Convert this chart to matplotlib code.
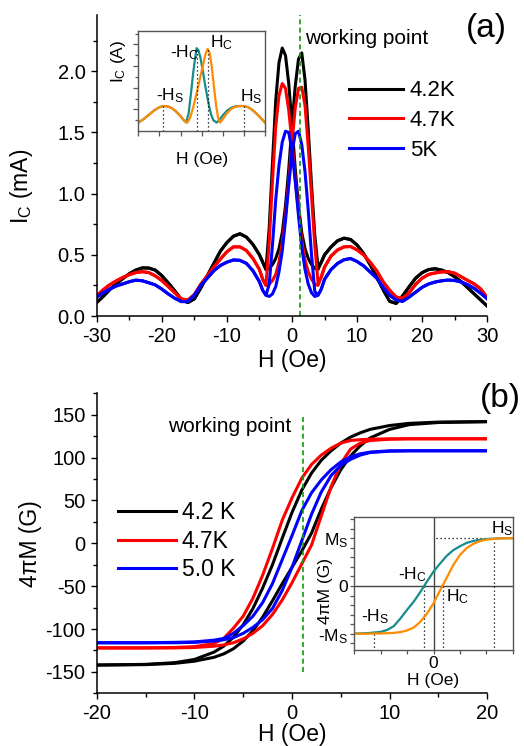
import numpy as np
import matplotlib
matplotlib.use('Agg')
import matplotlib.pyplot as plt
from matplotlib.ticker import MultipleLocator, FixedLocator, FixedFormatter, NullFormatter

plt.rcParams['font.family'] = ['Liberation Sans', 'DejaVu Sans']
plt.rcParams['mathtext.fontset'] = 'custom'
plt.rcParams['mathtext.rm'] = 'Liberation Sans'
plt.rcParams['mathtext.it'] = 'Liberation Sans:italic'
plt.rcParams['mathtext.bf'] = 'Liberation Sans:bold'
plt.rcParams['axes.unicode_minus'] = False

# ---------------- Panel (a) data: Ic(H) ----------------
temps_a = ['4.2K', '4.7K', '5K']
colors = ['#000000', '#ff0000', '#0000ff']

H_out_left = [-30, -29, -28, -27, -26, -25, -24, -23, -22, -21, -20, -19, -18,
              -17, -16, -15, -14, -13, -12, -11, -10, -9, -8, -7, -6, -5]
H_center = [-4.5, -4, -3.5, -3, -2.5, -2, -1.5, -1, -0.5, 0, 0.5, 1, 1.5, 2,
            2.5, 3, 3.5, 4, 4.5]
H_out_right = [5, 6, 7, 8, 9, 10, 11, 12, 13, 14, 15, 16, 17, 18, 19, 20, 21,
               22, 23, 24, 25, 26, 27, 28, 29, 30]

ic42_left = [0.11, 0.16, 0.215, 0.262, 0.305, 0.345, 0.375, 0.393, 0.392, 0.375,
             0.33, 0.27, 0.205, 0.135, 0.11, 0.14, 0.23, 0.33, 0.43, 0.53, 0.6,
             0.652, 0.672, 0.645, 0.585, 0.5]
ic42_down = [0.44, 0.38, 0.72, 1.25, 1.76, 2.07, 2.19, 2.13, 1.9, 1.56, 1.2, 0.9,
             0.68, 0.55, 0.47, 0.42, 0.39, 0.38, 0.44]
ic42_up = [0.44, 0.38, 0.39, 0.42, 0.47, 0.55, 0.68, 0.9, 1.2, 1.56, 1.88, 2.1,
           2.15, 1.93, 1.52, 1.07, 0.66, 0.4, 0.44]
ic42_right = [0.5, 0.565, 0.615, 0.636, 0.625, 0.58, 0.51, 0.42, 0.32, 0.215, 0.12,
              0.103, 0.165, 0.24, 0.31, 0.355, 0.38, 0.386, 0.375, 0.355, 0.32,
              0.28, 0.23, 0.18, 0.13, 0.08]

ic47_left = [0.165, 0.215, 0.255, 0.287, 0.315, 0.338, 0.355, 0.362, 0.355, 0.328,
             0.29, 0.24, 0.19, 0.14, 0.13, 0.175, 0.26, 0.33, 0.4, 0.465, 0.525,
             0.565, 0.565, 0.535, 0.47, 0.38]
ic47_down = [0.30, 0.25, 0.6, 1.1, 1.55, 1.8, 1.9, 1.86, 1.68, 1.42, 1.12, 0.85,
             0.62, 0.46, 0.36, 0.3, 0.26, 0.25, 0.32]
ic47_up = [0.30, 0.25, 0.26, 0.29, 0.34, 0.44, 0.6, 0.82, 1.1, 1.42, 1.7, 1.86,
           1.87, 1.72, 1.38, 0.98, 0.58, 0.27, 0.32]
ic47_right = [0.4, 0.49, 0.54, 0.565, 0.568, 0.54, 0.5, 0.44, 0.37, 0.28, 0.21,
              0.155, 0.145, 0.19, 0.26, 0.31, 0.34, 0.352, 0.36, 0.362, 0.35, 0.32,
              0.29, 0.262, 0.22, 0.15]

ic50_left = [0.155, 0.19, 0.22, 0.245, 0.262, 0.28, 0.293, 0.288, 0.272, 0.254,
             0.22, 0.18, 0.145, 0.118, 0.118, 0.17, 0.25, 0.31, 0.37, 0.413, 0.44,
             0.458, 0.455, 0.43, 0.37, 0.28]
ic50_down = [0.21, 0.17, 0.26, 0.58, 0.95, 1.23, 1.42, 1.51, 1.5, 1.35, 1.1, 0.82,
             0.56, 0.38, 0.26, 0.19, 0.16, 0.17, 0.22]
ic50_up = [0.21, 0.17, 0.16, 0.18, 0.24, 0.36, 0.53, 0.78, 1.07, 1.34, 1.49, 1.51,
           1.4, 1.18, 0.86, 0.5, 0.2, 0.17, 0.22]
ic50_right = [0.3, 0.38, 0.43, 0.46, 0.47, 0.445, 0.41, 0.36, 0.31, 0.235, 0.17,
              0.13, 0.12, 0.155, 0.195, 0.235, 0.262, 0.278, 0.288, 0.294, 0.29,
              0.278, 0.255, 0.225, 0.185, 0.14]

wp_a = 1.2

# inset (a)
ins_a_x_teal = [-3.0, -2.75, -2.5, -2.25, -2.0, -1.8, -1.6, -1.4, -1.2, -1.0, -0.85,
                -0.74, -0.62, -0.5, -0.4, -0.3, -0.24, -0.15, -0.05, 0.05, 0.15, 0.25,
                0.35, 0.45, 0.55, 0.71, 0.85, 1.0, 1.2, 1.4, 1.6, 1.8, 2.0, 2.2, 2.4,
                2.6, 2.8, 3.0]
ins_a_y_teal = [0.77, 1.1, 1.5, 1.9, 2.2, 2.31, 2.27, 2.1, 1.78, 1.38, 1.0, 0.8,
                1.6, 3.6, 5.4, 6.9, 7.66, 7.45, 6.7, 5.6, 4.4, 3.3, 2.3, 1.5, 1.0,
                0.78, 1.05, 1.45, 1.88, 2.15, 2.28, 2.31, 2.3, 2.2, 1.95, 1.6, 1.2, 0.77]
ins_a_x_orange = [-3.0, -2.75, -2.5, -2.25, -2.0, -1.8, -1.6, -1.4, -1.2, -1.0,
                  -0.85, -0.68, -0.55, -0.4, -0.25, -0.1, 0.05, 0.18, 0.28, 0.38,
                  0.48, 0.58, 0.68, 0.78, 0.87, 1.0, 1.2, 1.4, 1.6, 1.8, 2.0, 2.2,
                  2.4, 2.6, 2.8, 3.0]
ins_a_y_orange = [0.77, 1.1, 1.5, 1.9, 2.2, 2.31, 2.27, 2.1, 1.78, 1.38, 1.0, 0.77,
                  1.2, 2.2, 3.4, 4.7, 6.0, 7.1, 7.59, 7.2, 5.9, 4.1, 2.4, 1.2, 0.77,
                  1.1, 1.65, 2.05, 2.25, 2.31, 2.3, 2.2, 1.95, 1.6, 1.2, 0.77]
ins_a_marks_x = [-1.82, -0.24, 0.28, 2.0]
ins_a_marks_y = [2.31, 7.66, 7.59, 2.3]

# ---------------- Panel (b) data: 4piM(H) ----------------
temps_b = ['4.2 K', '4.7K', '5.0 K']
H_b = [-20, -15, -12, -10, -8, -7, -6, -5, -4, -3, -2, -1, 0, 1, 2, 3, 4, 5, 6, 7,
       8, 10, 12, 15, 20]
m42_down = [-142, -141.2, -139.2, -135.5, -127, -120, -109.5, -95, -76, -52, -25, 6,
            36, 62, 82, 97, 108, 117, 124, 129, 133, 137.5, 140, 141.5, 142]
m42_up = [-142, -141.5, -140, -137.5, -133, -129, -123, -114, -102, -86, -67, -47,
          -28, -9, 12, 40, 65, 86, 102, 114, 123, 133, 138.5, 141, 142]
m47_down = [-122, -122, -121.5, -120.5, -117, -111, -99, -85, -64, -37, -6, 27, 53,
            76, 92, 103, 111, 117, 120, 121, 121.5, 122, 122, 122, 122]
m47_up = [-122, -122, -122, -121.5, -120, -118.5, -116, -111.5, -105, -96, -83, -66,
          -46, -24, -2, 32, 66, 93, 110, 117, 120, 121.5, 122, 122, 122]
m50_down = [-116, -116, -115.5, -115, -113, -111, -105, -96, -85, -69, -47, -19, 9,
            38, 59, 74, 86, 95, 101, 104.5, 106.5, 108, 108, 108, 108]
m50_up = [-116, -116, -116, -115.5, -114, -112.5, -110, -105, -98, -89, -76, -55,
          -28, 3, 34, 60, 79, 91, 98, 103, 106, 107.5, 108, 108, 108]
wp_b = 1.15

# inset (b)
ins_b_x = [-3, -2.5, -2.0, -1.75, -1.5, -1.25, -1.0, -0.75, -0.5, -0.25, 0, 0.25,
           0.5, 0.75, 1.0, 1.25, 1.5, 1.75, 2.0, 2.5, 3.0]
ins_b_teal = [-4.98, -4.93, -4.8, -4.6, -4.2, -3.4, -2.5, -1.65, -0.65, 0.45, 1.5,
              2.35, 3.15, 3.75, 4.15, 4.5, 4.7, 4.82, 4.9, 4.98, 5.0]
ins_b_orange = [-5.0, -4.99, -4.96, -4.94, -4.9, -4.82, -4.65, -4.35, -3.75, -2.9,
                -1.81, -0.45, 0.87, 2.2, 3.25, 3.95, 4.4, 4.68, 4.85, 4.97, 5.0]
Ms_b = 5.0
Hs_b, Hc_b, mHc_b, mHs_b = 2.28, 0.34, -0.35, -2.25

TEAL = '#168c8c'
ORANGE = '#ff8c00'
GREEN = '#109a10'

fig = plt.figure(figsize=(5.24, 7.46), dpi=100)
axa = fig.add_axes([0.1845, 0.5764, 0.7455, 0.4035])
axb = fig.add_axes([0.1845, 0.0706, 0.7455, 0.4021])

LW = 2.2
TICK_FS = 14.5
LABEL_FS = 16.5


def style_main(ax):
    for s in ['top', 'right']:
        ax.spines[s].set_visible(False)
    for s in ['left', 'bottom']:
        ax.spines[s].set_linewidth(1.1)
    ax.tick_params(which='major', direction='out', length=4.5, width=1.0,
                   labelsize=TICK_FS, pad=3.5)
    ax.tick_params(which='minor', direction='out', length=3.0, width=1.0)


# ----- Panel (a) -----
sets_a = [(ic42_left, ic42_down, ic42_up, ic42_right),
          (ic47_left, ic47_down, ic47_up, ic47_right),
          (ic50_left, ic50_down, ic50_up, ic50_right)]
handles_a = []
for (lft, dn, up, rgt), c, lab in zip(sets_a, colors, temps_a):
    Hfull = H_out_left + H_center + H_out_right
    l1, = axa.plot(Hfull, lft + dn + rgt, color=c, lw=LW, solid_joinstyle='round')
    axa.plot(Hfull, lft + up + rgt, color=c, lw=LW, solid_joinstyle='round')
    handles_a.append(l1)

axa.axvline(wp_a, color=GREEN, lw=1.2, ls=(0, (3, 2)))
axa.text(2.0, 2.22, 'working point', fontsize=15, va='baseline', ha='left')
axa.set_xlim(-30, 30)
axa.set_ylim(0, 2.46)
axa.xaxis.set_major_locator(MultipleLocator(10))
axa.xaxis.set_minor_locator(MultipleLocator(5))
axa.yaxis.set_major_locator(FixedLocator([0, 0.5, 1.0, 1.5, 2.0]))
axa.yaxis.set_minor_locator(FixedLocator([0.25, 0.75, 1.25, 1.75, 2.25]))
axa.yaxis.set_major_formatter(FixedFormatter(['0.0', '0.5', '1.0', '1.5', '2.0']))
style_main(axa)
axa.set_xlabel('H (Oe)', fontsize=LABEL_FS, labelpad=2)
axa.set_ylabel(r'I$_\mathrm{C}$ (mA)', fontsize=LABEL_FS)
axa.yaxis.set_label_coords(-0.158, 0.43)
axa.legend(handles_a, temps_a, loc='upper left', bbox_to_anchor=(0.646, 0.783),
           frameon=False, fontsize=16, handlelength=2.43, handletextpad=0.3,
           labelspacing=0.4, borderpad=0, borderaxespad=0)

# inset (a)
ia = fig.add_axes([0.264, 0.8244, 0.2418, 0.1334])
ia.plot(ins_a_x_teal, ins_a_y_teal, color=TEAL, lw=1.6)
ia.plot(ins_a_x_orange, ins_a_y_orange, color=ORANGE, lw=1.6)
for xm, ym in zip(ins_a_marks_x, ins_a_marks_y):
    ia.plot([xm, xm], [0, ym], color='black', lw=0.9, ls=(0, (1, 2.2)))
ia.set_xlim(-3, 3)
ia.set_ylim(0, 9.2)
ia.xaxis.set_major_locator(MultipleLocator(1))
ia.yaxis.set_major_locator(FixedLocator([2, 4, 6, 8]))
ia.yaxis.set_minor_locator(FixedLocator([1, 3, 5, 7, 9]))
ia.xaxis.set_major_formatter(NullFormatter())
ia.yaxis.set_major_formatter(NullFormatter())
for s in ia.spines.values():
    s.set_color('#555555')
    s.set_linewidth(1.0)
ia.tick_params(which='major', direction='out', length=3.5, width=0.9, color='#555555')
ia.tick_params(which='minor', direction='out', length=2.0, width=0.9, color='#555555')
ins_fs = 12.5
ia.set_xlabel('H (Oe)', fontsize=ins_fs)
ia.xaxis.set_label_coords(0.5, -0.21)
ia.set_ylabel(r'I$_\mathrm{C}$ (A)', fontsize=ins_fs)
ia.yaxis.set_label_coords(-0.085, 0.70)
ia.text(-1.5, 6.85, r'-H$_\mathrm{C}$', fontsize=ins_fs, va='baseline')
ia.text(0.39, 7.78, r'H$_\mathrm{C}$', fontsize=ins_fs, va='baseline')
ia.text(-2.16, 2.87, r'-H$_\mathrm{S}$', fontsize=ins_fs, va='baseline')
ia.text(1.82, 2.71, r'H$_\mathrm{S}$', fontsize=ins_fs, va='baseline')

# ----- Panel (b) -----
sets_b = [(m42_down, m42_up), (m47_down, m47_up), (m50_down, m50_up)]
handles_b = []
for (dn, up), c in zip(sets_b, colors):
    l1, = axb.plot(H_b, dn, color=c, lw=LW, solid_joinstyle='round')
    axb.plot(H_b, up, color=c, lw=LW, solid_joinstyle='round')
    handles_b.append(l1)
axb.vlines(wp_b, -150, 150, color=GREEN, lw=1.2, linestyles=[(0, (3, 2))])
axb.text(-12.67, 130.5, 'working point', fontsize=15, va='baseline', ha='left')
axb.set_xlim(-20, 20)
axb.set_ylim(-175, 175)
axb.xaxis.set_major_locator(MultipleLocator(10))
axb.xaxis.set_minor_locator(MultipleLocator(5))
axb.yaxis.set_major_locator(MultipleLocator(50))
axb.yaxis.set_minor_locator(MultipleLocator(25))
style_main(axb)
axb.set_xlabel('H (Oe)', fontsize=LABEL_FS, labelpad=0)
axb.set_ylabel('4πM (G)', fontsize=LABEL_FS)
axb.yaxis.set_label_coords(-0.141, 0.5)
axb.legend(handles_b, temps_b, loc='upper left', bbox_to_anchor=(0.0545, 0.64),
           frameon=False, fontsize=16.5, handlelength=2.52, handletextpad=0.27,
           labelspacing=0.24, borderpad=0, borderaxespad=0)

# inset (b)
ib = fig.add_axes([0.6756, 0.1287, 0.3034, 0.1787])
ib.axhline(0, color='#444444', lw=1.0)
ib.axvline(0, color='#444444', lw=1.0)
ib.plot([0.09, Hs_b], [Ms_b, Ms_b], color='black', lw=0.9, ls=(0, (1, 2.2)))
ib.plot([Hs_b, Hs_b], [Ms_b, -6.69], color='black', lw=0.9, ls=(0, (1, 2.2)))
ib.plot([mHc_b, mHc_b], [0, -6.69], color='black', lw=0.9, ls=(0, (1, 2.2)))
ib.plot([Hc_b, Hc_b], [0, -6.69], color='black', lw=0.9, ls=(0, (1, 2.2)))
ib.plot([mHs_b, mHs_b], [-Ms_b, -6.69], color='black', lw=0.9, ls=(0, (1, 2.2)))
ib.plot(ins_b_x, ins_b_teal, color=TEAL, lw=1.6)
ib.plot(ins_b_x, ins_b_orange, color=ORANGE, lw=1.6)
ib.set_xlim(-3, 3)
ib.set_ylim(-6.69, 7.24)
ib.xaxis.set_major_locator(FixedLocator([-3, -2, -1, 0, 1, 2, 3]))
ib.xaxis.set_major_formatter(FixedFormatter(['', '', '', '0', '', '', '']))
yt = list(range(-6, 8))
ylabs = ['' for _ in yt]
ylabs[yt.index(5)] = r'M$_\mathrm{S}$'
ylabs[yt.index(0)] = '0'
ylabs[yt.index(-5)] = r'-M$_\mathrm{S}$'
ib.yaxis.set_major_locator(FixedLocator(yt))
ib.yaxis.set_major_formatter(FixedFormatter(ylabs))
for s in ib.spines.values():
    s.set_color('#555555')
    s.set_linewidth(1.0)
ib.tick_params(direction='out', length=3.0, width=0.9, color='#555555',
               labelsize=ins_fs, pad=1)
ib.set_xlabel('H (Oe)', fontsize=ins_fs)
ib.xaxis.set_label_coords(0.5, -0.17)
ib.set_ylabel('4πM (G)', fontsize=ins_fs)
ib.yaxis.set_label_coords(-0.13, 0.44)
ib.text(2.17, 5.5, r'H$_\mathrm{S}$', fontsize=ins_fs, va='baseline')
ib.text(-1.35, 0.73, r'-H$_\mathrm{C}$', fontsize=ins_fs, va='baseline')
ib.text(0.46, -1.64, r'H$_\mathrm{C}$', fontsize=ins_fs, va='baseline')
ib.text(-2.72, -3.73, r'-H$_\mathrm{S}$', fontsize=ins_fs, va='baseline')

# panel tags
fig.text(0.889, 0.951, '(a)', fontsize=24, va='baseline')
fig.text(0.916, 0.455, '(b)', fontsize=24, va='baseline')

fig.savefig('out.png', dpi=100)
